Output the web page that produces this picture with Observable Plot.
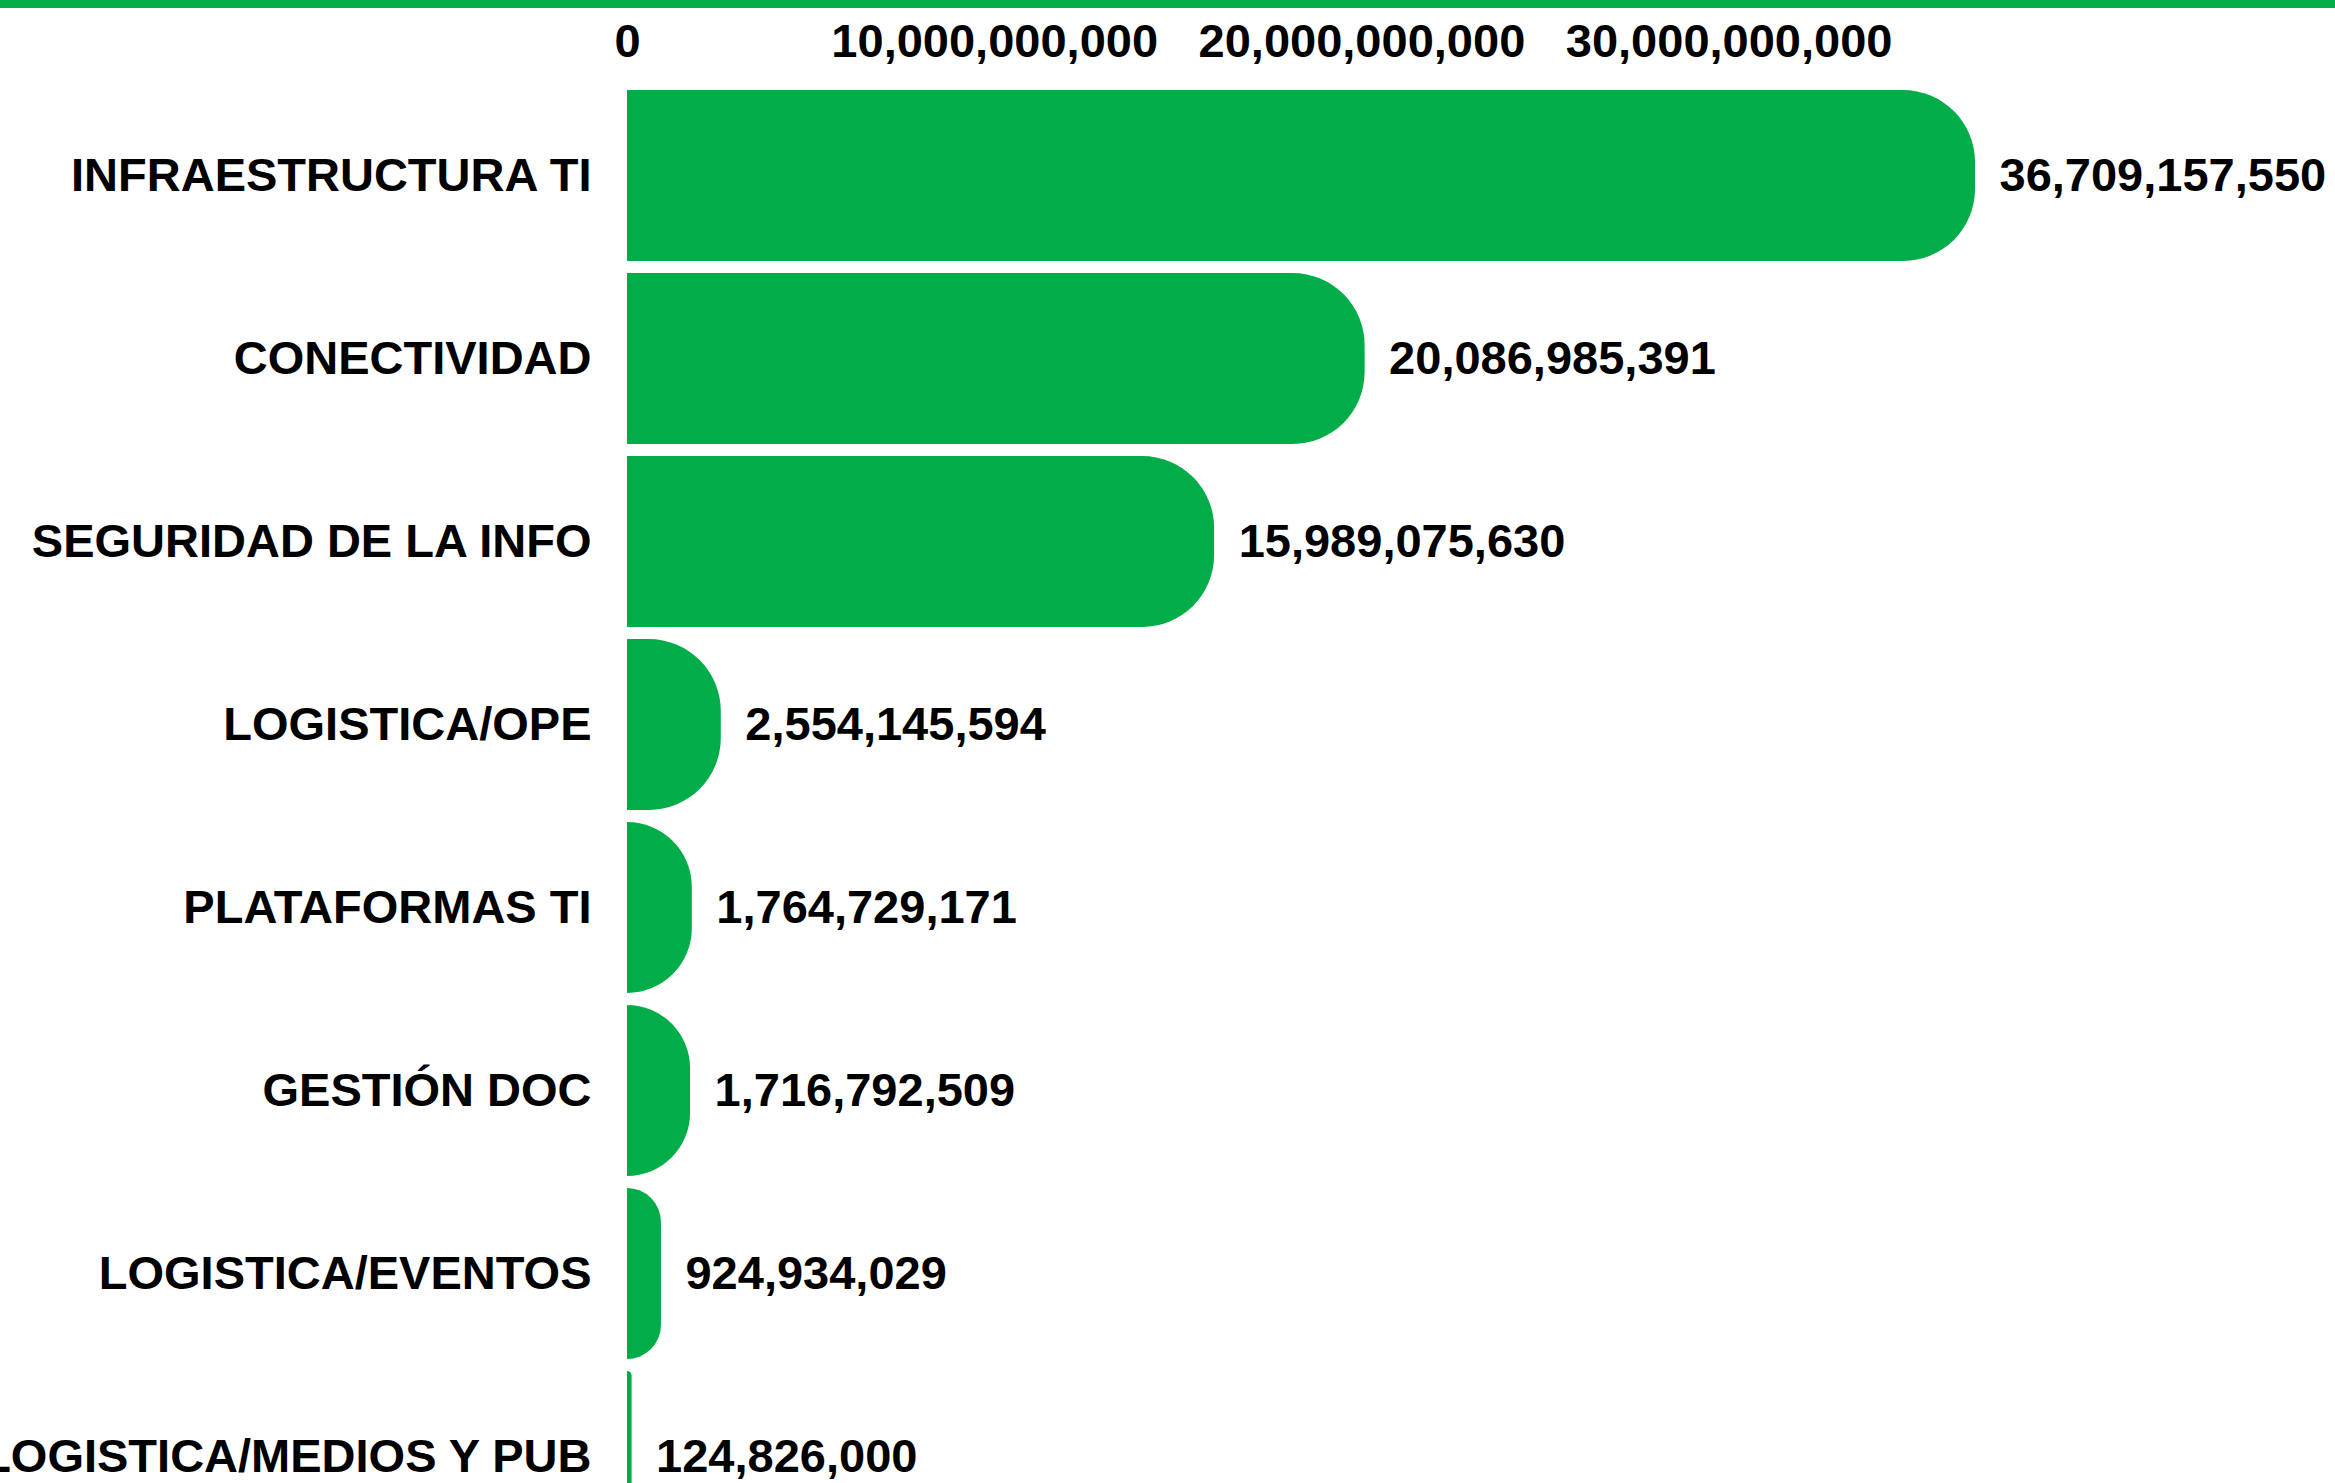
<!DOCTYPE html>
<html>
<head>
<meta charset="utf-8">
<script src="https://cdn.jsdelivr.net/npm/d3@7"></script>
<script src="https://cdn.jsdelivr.net/npm/@observablehq/plot@0.6"></script>
<style>
  html, body { margin: 0; padding: 0; background: #fff; overflow: hidden; }
  #topline { height: 8px; background: #00ad48; }
  #chart svg { overflow: visible; display: block; }
</style>
</head>
<body>
<div id="topline"></div>
<div id="chart"></div>
<script>
const categories = ["INFRAESTRUCTURA TI", "CONECTIVIDAD", "SEGURIDAD DE LA INFO", "LOGISTICA/OPE", "PLATAFORMAS TI", "GESTIÓN DOC", "LOGISTICA/EVENTOS", "LOGISTICA/MEDIOS Y PUB"];
const values = [36709157550, 20086985391, 15989075630, 2554145594, 1764729171, 1716792509, 924934029, 124826000];
const xTicks = [0, 10000000000, 20000000000, 30000000000];

const data = categories.map((c, i) => ({category: c, value: values[i]}));
const fmt = d3.format(",");
const green = "#00ad48";

const chart = Plot.plot({
  width: 2335,
  height: 1547,
  marginTop: 68,
  marginLeft: 627,
  marginRight: 360,
  marginBottom: 0,
  style: {fontFamily: "'Liberation Sans', Arial, Helvetica, sans-serif", fontWeight: "bold", fontSize: "47px", color: "#000", background: "#fff"},
  x: {domain: [0, d3.max(values)], axis: null},
  y: {domain: categories, padding: 0.067, axis: null},
  marks: [
    Plot.barX(data, {x: "value", y: "category", fill: green, rx2: 72}),
    Plot.text(data, {x: "value", y: "category", text: d => fmt(d.value), textAnchor: "start", dx: 24, fontSize: 47, fontWeight: "bold", fill: "#000"}),
    Plot.axisX({anchor: "top", ticks: xTicks, tickFormat: fmt, tickSize: 0, tickPadding: 20, fontSize: 47, fontWeight: "bold", label: null}),
    Plot.axisY({anchor: "left", tickSize: 0, tickPadding: 36, fontSize: 47, fontWeight: "bold", label: null})
  ]
});
document.getElementById("chart").appendChild(chart);
</script>
</body>
</html>
